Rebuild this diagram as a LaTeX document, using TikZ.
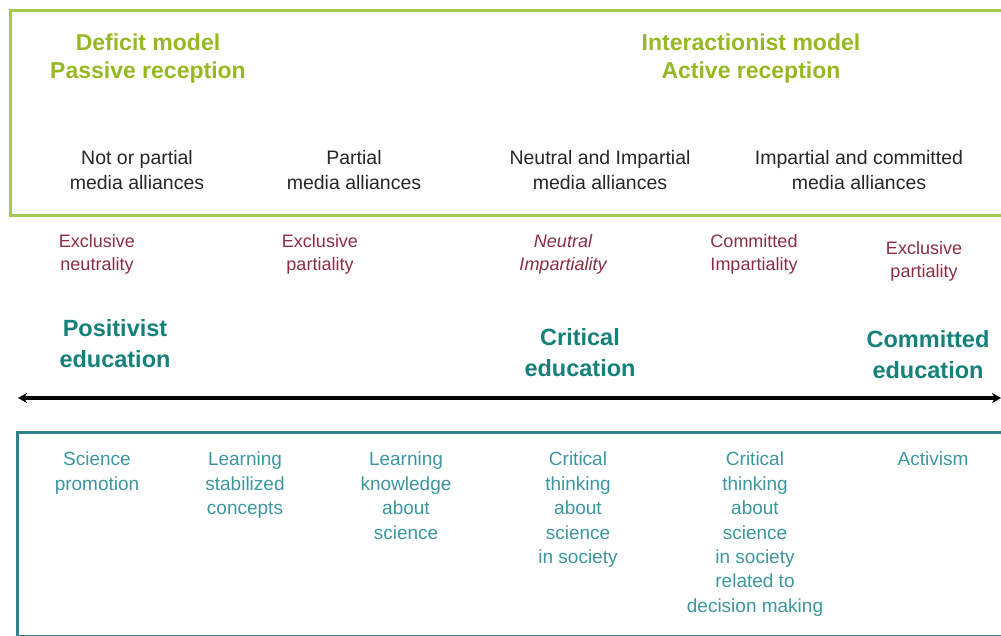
\documentclass[tikz,border=0pt]{standalone}
\usepackage{fontspec}
\setmainfont{Liberation Sans}
\usetikzlibrary{arrows.meta, positioning}
\definecolor{limegreen}{RGB}{150, 185, 35}
\definecolor{boxgreen}{RGB}{165, 198, 80}
\definecolor{deepteal}{RGB}{22, 128, 122}
\definecolor{softteal}{RGB}{60, 150, 160}
\definecolor{boxteal}{RGB}{45, 130, 140}
\definecolor{winered}{RGB}{140, 45, 65}
\tikzset{
  >=Stealth,
  scalearrow/.style={{Stealth[length=9pt, width=10pt]}-{Stealth[length=9pt, width=10pt]}, line width=3.4pt, black},
  modeltext/.style={text=limegreen, font=\fontsize{23}{28}\selectfont\bfseries, align=center, inner sep=0pt},
  alliancetext/.style={text=black!85, font=\fontsize{19.5}{25}\selectfont, align=center, inner sep=0pt},
  stancetext/.style={text=winered, font=\fontsize{18}{23}\selectfont, align=center, inner sep=0pt},
  edutext/.style={text=deepteal, font=\fontsize{23.5}{31}\selectfont\bfseries, align=center, inner sep=0pt},
  goaltext/.style={text=softteal, font=\fontsize{19}{24.4}\selectfont, align=center, inner sep=0pt, anchor=north}
}
\begin{document}
\begin{tikzpicture}[x=1pt, y=-1pt]
    \useasboundingbox (0,0) rectangle (1001,635);
    \clip (0,0) rectangle (1001,635);
    % Cadres
    \draw[boxgreen, line width=3pt] (10,10) rectangle (1015,215);
    \draw[boxteal, line width=3pt] (17,432) rectangle (1015,636.5);
    % Modeles
    \node (deficit) [modeltext] at (148,59) {Deficit model\\Passive reception};
    \node (interact) [modeltext] at (751,59) {Interactionist model\\Active reception};
    % Alliances mediatiques
    \node (allnone) [alliancetext] at (137,170) {Not or partial\\media alliances};
    \node (allpart) [alliancetext] at (354,170) {Partial\\media alliances};
    \node (allneut) [alliancetext] at (600,170) {Neutral and Impartial\\media alliances};
    \node (allcomm) [alliancetext] at (859,170) {Impartial and committed\\media alliances};
    % Positions
    \node (exneut) [stancetext] at (97,254) {Exclusive\\neutrality};
    \node (expart) [stancetext] at (320,254) {Exclusive\\partiality};
    \node (neutimp) [stancetext, font=\fontsize{18}{23}\selectfont\itshape] at (563,254) {Neutral\\Impartiality};
    \node (commimp) [stancetext] at (754,254) {Committed\\Impartiality};
    \node (expart2) [stancetext] at (924,261) {Exclusive\\partiality};
    % Education
    \node (positiv) [edutext] at (115,344) {Positivist\\education};
    \node (critic) [edutext] at (580,353) {Critical\\education};
    \node (commit) [edutext] at (928,355) {Committed\\education};
    % Axe
    \coordinate (axisl) at (18,398);
    \coordinate (axisr) at (1001,398);
    \draw[scalearrow] (axisl) -- (axisr);
    % Objectifs
    \node (promo) [goaltext] at (97,452) {Science\\promotion};
    \node (stab) [goaltext] at (245,452) {Learning\\stabilized\\concepts};
    \node (know) [goaltext] at (406,452) {Learning\\knowledge\\about\\science};
    \node (think) [goaltext] at (578,452) {Critical\\thinking\\about\\science\\in society};
    \node (decide) [goaltext] at (755,452) {Critical\\thinking\\about\\science\\in society\\related to\\decision making};
    \node (activ) [goaltext] at (933,452) {Activism};
\end{tikzpicture}
\end{document}
